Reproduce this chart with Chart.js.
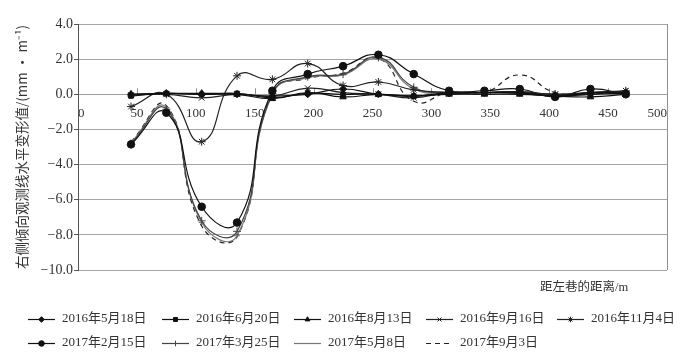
<!DOCTYPE html>
<html>
<head>
<meta charset="utf-8">
<script src="https://cdn.jsdelivr.net/npm/chart.js@4/dist/chart.umd.min.js"></script>
<style>
  html, body { margin: 0; padding: 0; background: #ffffff; }
  #wrap { width: 692px; height: 362px; }
</style>
</head>
<body>
<div id="wrap"><canvas id="c" width="692" height="362"></canvas></div>
<script>
// ---- data ----
const distances = [45, 75, 105, 135, 165, 195, 225, 255, 285, 315, 345, 375, 405, 435, 465];
const seriesLabels = ['2016年5月18日', '2016年6月20日', '2016年8月13日', '2016年9月16日', '2016年11月4日',
                      '2017年2月15日', '2017年3月25日', '2017年5月8日', '2017年9月3日'];
const s20160518 = [0.0, 0.05, 0.0, 0.0, -0.1, 0.0, 0.3, 0.0, -0.1, 0.05, 0.1, 0.1, -0.1, 0.1, 0.1];
const s20160620 = [-0.1, 0.05, 0.0, 0.05, -0.2, 0.05, 0.0, 0.0, -0.1, 0.1, 0.1, 0.05, -0.1, 0.0, 0.05];
const s20160813 = [0.0, 0.05, 0.05, 0.0, -0.25, 0.1, -0.15, 0.0, -0.1, 0.0, 0.0, 0.0, -0.1, -0.15, 0.0];
const s20160916 = [-0.05, 0.0, -0.2, 0.0, -0.1, 0.35, 0.1, 0.0, -0.2, 0.1, 0.1, 0.1, 0.0, 0.0, 0.2];
const s20161104 = [-0.7, 0.0, -2.7, 1.05, 0.85, 1.75, 0.5, 0.7, 0.25, 0.1, 0.1, 0.15, 0.0, 0.1, 0.2];
const s20170215 = [-2.85, -1.05, -6.4, -7.3, 0.2, 1.15, 1.6, 2.25, 1.15, 0.2, 0.2, 0.3, -0.15, 0.3, 0.0];
const s20170325 = [-2.8, -0.85, -7.2, -7.8, 0.05, 1.0, 1.15, 2.1, 0.4, 0.1, 0.1, 0.1, 0.0, 0.1, 0.15];
const s20170508 = [-2.75, -0.75, -7.3, -8.05, 0.0, 0.95, 1.1, 2.0, 0.3, 0.1, 0.1, 0.15, -0.05, 0.1, 0.1];
const s20170903 = [-2.7, -0.65, -7.5, -8.1, 0.1, 0.9, 1.2, 2.05, -0.4, 0.1, 0.1, 1.1, 0.1, 0.05, 0.1];
const xAxisTitle = '距左巷的距离/m';
const yAxisTitle = '右侧倾向观测线水平变形值/(mm · m⁻¹)';

// ---- styles ----
const FONT = '"Liberation Serif", "Noto Sans CJK SC", serif';
Chart.defaults.font.family = FONT;
Chart.defaults.color = '#333';

const seriesValues = [s20160518, s20160620, s20160813, s20160916, s20161104, s20170215, s20170325, s20170508, s20170903];
const styles = [
  {pointStyle: 'rectRot', r: 3.5, color: '#111'},
  {pointStyle: 'rect', r: 3.2, color: '#111'},
  {pointStyle: 'triangle', r: 3.8, color: '#111'},
  {pointStyle: 'crossRot', r: 4, color: '#222'},
  {pointStyle: 'star', r: 4, color: '#222'},
  {pointStyle: 'circle', r: 3.8, color: '#111'},
  {pointStyle: 'cross', r: 4, color: '#444'},
  {pointStyle: 'line', r: 3, color: '#777'},
  {pointStyle: false, r: 0, color: '#222', dash: [5, 4]}
];

const datasets = seriesValues.map((vals, i) => {
  const st = styles[i];
  return {
    label: seriesLabels[i],
    data: distances.map((d, k) => ({x: d, y: vals[k]})),
    borderColor: st.color,
    borderWidth: 1.2,
    borderDash: st.dash || [],
    pointStyle: st.pointStyle,
    pointRadius: st.r,
    pointBackgroundColor: st.color,
    pointBorderColor: st.color,
    pointBorderWidth: 1,
    tension: 0.5,
    fill: false
  };
});

const decorPlugin = {
  id: 'decor',
  beforeDatasetsDraw(chart) {
    const {ctx, chartArea} = chart;
    const xs = chart.scales.x, ys = chart.scales.y;
    const y0 = ys.getPixelForValue(0);
    ctx.save();
    ctx.strokeStyle = '#8f8f8f';
    ctx.lineWidth = 1;
    ctx.beginPath();
    ctx.moveTo(Math.round(chartArea.right) + 0.5, chartArea.top);
    ctx.lineTo(Math.round(chartArea.right) + 0.5, chartArea.bottom);
    ctx.stroke();
    xs.ticks.forEach(t => {
      const px = Math.round(xs.getPixelForValue(t.value)) + 0.5;
      if (px <= chartArea.left + 2) return;
      ctx.beginPath();
      ctx.moveTo(px, y0);
      ctx.lineTo(px, y0 - 6);
      ctx.stroke();
    });
    ctx.restore();
  },
  afterDraw(chart) {
    const ctx = chart.ctx;
    ctx.save();
    ctx.fillStyle = '#333';
    ctx.font = '12.5px ' + FONT;
    ctx.textBaseline = 'middle';
    ctx.textAlign = 'left';
    ctx.fillText(xAxisTitle, 540, 288);
    const cols = [28, 162, 294, 426, 557];
    const rows = [319, 343];
    chart.data.datasets.forEach((ds, i) => {
      const x = cols[i % 5], y = rows[Math.floor(i / 5)];
      ctx.strokeStyle = ds.borderColor;
      ctx.lineWidth = 1.2;
      ctx.setLineDash(ds.borderDash || []);
      ctx.beginPath();
      ctx.moveTo(x, y + 0.5);
      ctx.lineTo(x + 27, y + 0.5);
      ctx.stroke();
      ctx.setLineDash([]);
      if (ds.pointStyle) {
        ctx.fillStyle = ds.pointBackgroundColor;
        ctx.strokeStyle = ds.pointBorderColor;
        ctx.lineWidth = 1;
        Chart.helpers.drawPoint(ctx, {pointStyle: ds.pointStyle, radius: 2.8, rotation: 0, borderWidth: 1}, x + 13.5, y + 0.5);
      }
      ctx.fillStyle = '#333';
      ctx.font = '13px ' + FONT;
      ctx.textBaseline = 'middle';
      ctx.textAlign = 'left';
      ctx.fillText(ds.label, x + 34, y);
    });
    ctx.restore();
  }
};

new Chart(document.getElementById('c'), {
  type: 'line',
  data: {datasets},
  options: {
    responsive: false,
    animation: false,
    events: [],
    layout: {padding: {top: 24, right: 25, bottom: 92, left: 0}},
    plugins: {legend: {display: false}, tooltip: {enabled: false}},
    scales: {
      x: {
        type: 'linear',
        position: {y: 0},
        min: 0, max: 500,
        ticks: {stepSize: 50, align: 'inner', padding: 11, font: {size: 13, family: FONT}, color: '#333', maxRotation: 0},
        grid: {drawOnChartArea: false, drawTicks: false},
        border: {display: true, color: '#a0a0a0', width: 1}
      },
      y: {
        min: -10, max: 4,
        afterFit(scale) { scale.width = 78; },
        ticks: {
          stepSize: 2, padding: 1, font: {size: 14, family: FONT}, color: '#333',
          callback: v => (v < 0 ? '−' : '') + Math.abs(v).toFixed(1)
        },
        grid: {color: '#a6a6a6', lineWidth: 1, tickLength: 4, tickColor: '#555'},
        border: {display: true, color: '#555', width: 1},
        title: {
          display: true, text: yAxisTitle, color: '#333',
          font: {size: 13.5, family: '"Noto Sans CJK SC", "Liberation Serif", serif'},
          padding: {top: 14, bottom: 0}
        }
      }
    }
  },
  plugins: [decorPlugin]
});
</script>
</body>
</html>
